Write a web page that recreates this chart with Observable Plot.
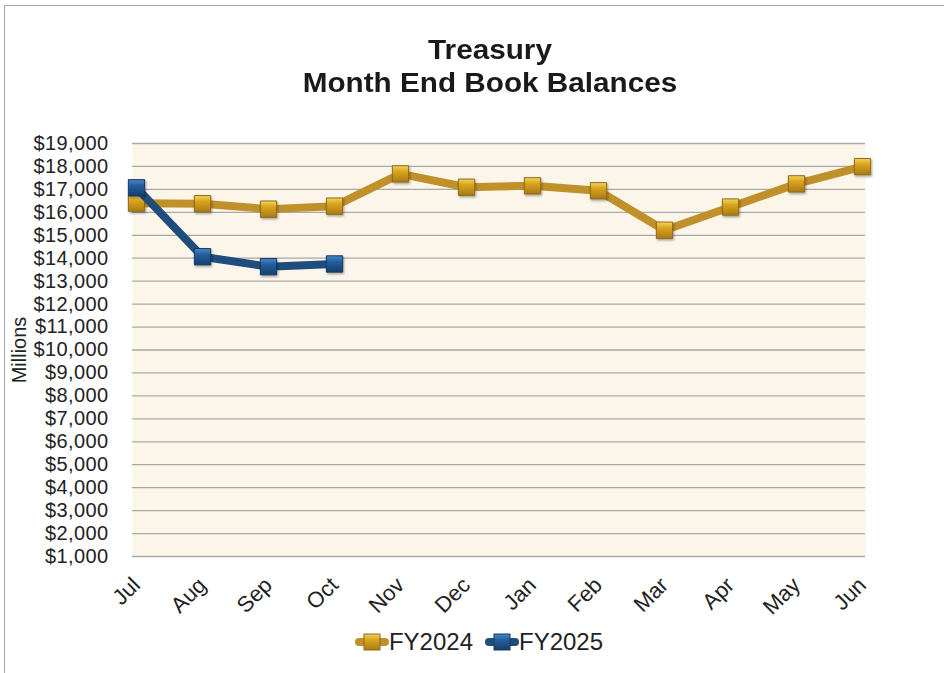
<!DOCTYPE html>
<html><head><meta charset="utf-8">
<script src="https://cdn.jsdelivr.net/npm/d3@7"></script>
<script src="https://cdn.jsdelivr.net/npm/@observablehq/plot@0.6"></script>
<style>
body{margin:0;background:#fff;font-family:"Liberation Sans",Arial,Helvetica,sans-serif;color:#222;}
#wrap{position:relative;width:944px;height:673px;overflow:hidden;}
#frame{position:absolute;left:4px;top:5px;width:990px;height:720px;border-left:1.5px solid #a6a6a6;border-top:1.5px solid #a6a6a6;}
#title{position:absolute;left:240px;width:500px;top:34px;text-align:center;font-weight:bold;font-size:27px;line-height:33px;color:#1a1a1a;transform:scaleX(1.1);transform-origin:center;}
#chart{position:absolute;left:0;top:100px;}
#chart svg g[aria-label='y-axis tick label'] text{letter-spacing:0.4px;}
#legend{position:absolute;left:0;width:944px;top:628px;display:flex;justify-content:center;align-items:center;font-size:24px;color:#222;padding-left:14px;box-sizing:border-box;}
.item{display:flex;align-items:center;margin:0 6px;}
.item svg{display:block;}
</style>
</head><body>
<div id="wrap">
  <div id="frame"></div>
  <div id="title">Treasury<br>Month End Book Balances</div>
  <div id="chart"></div>
  <div id="legend"></div>
</div>
<script>
const months = ["Jul","Aug","Sep","Oct","Nov","Dec","Jan","Feb","Mar","Apr","May","Jun"];
const fy2024 = [16400,16375,16140,16270,17675,17095,17155,16940,15220,16230,17240,17990];
const fy2025 = [17070,14065,13630,13750];
const yTicks = [1000,2000,3000,4000,5000,6000,7000,8000,9000,10000,11000,12000,13000,14000,15000,16000,17000,18000,19000];
const seriesNames = ["FY2024","FY2025"];
const lineColors = ["#c0902a","#1f4e7d"];
const markerFills = ["url(#gGold)","url(#gBlue)"];
const markerStrokes = ["#8c6a1c","#163a60"];

const d24 = months.map((m,i)=>({month:m, value:fy2024[i]}));
const d25 = fy2025.map((v,i)=>({month:months[i], value:v}));

const chart = Plot.plot({
  width:944, height:520,
  marginLeft:132, marginRight:79, marginTop:43, marginBottom:64,
  style:{fontFamily:"Liberation Sans, Arial, sans-serif", fontSize:"20px", color:"#222", background:"transparent", overflow:"visible"},
  x:{type:"point", domain:months, padding:0},
  y:{domain:[1000,19000]},
  marks:[
    Plot.frame({fill:"#fcf6ea", stroke:null}),
    Plot.gridY(yTicks, {stroke:"#a8a8a8", strokeOpacity:1, strokeWidth:1.3}),
    Plot.axisY(yTicks, {tickSize:0, tickPadding:24, tickFormat:d=>"$"+d3.format(",")(d), label:"Millions", labelAnchor:"center", labelArrow:"none", labelOffset:121, fontSize:20}),
    Plot.axisX({tickSize:0, tickRotate:-45, tickPadding:25, fontSize:22, label:null}),
    Plot.line(d24, {x:"month", y:"value", stroke:lineColors[0], strokeWidth:8, strokeLinejoin:"round"}),
    Plot.dot(d24, {x:"month", y:"value", symbol:"square", r:9.2, fill:markerFills[0], stroke:markerStrokes[0], strokeWidth:1}),
    Plot.line(d25, {x:"month", y:"value", stroke:lineColors[1], strokeWidth:8, strokeLinejoin:"round"}),
    Plot.dot(d25, {x:"month", y:"value", symbol:"square", r:9.2, fill:markerFills[1], stroke:markerStrokes[1], strokeWidth:1})
  ]
});

const defs = d3.select(chart).insert("defs", ":first-child");
function grad(id, stops){
  const g = defs.append("linearGradient").attr("id", id).attr("x1",0).attr("y1",0).attr("x2",0).attr("y2",1);
  stops.forEach(([o,c])=>g.append("stop").attr("offset",o).attr("stop-color",c));
}
grad("gGold", [[0,"#f6d35a"],[0.35,"#d9a51e"],[1,"#a97a12"]]);
grad("gBlue", [[0,"#4a88c8"],[0.35,"#24609e"],[1,"#163f6c"]]);
const f = defs.append("filter").attr("id","shadow").attr("x","-30%").attr("y","-30%").attr("width","160%").attr("height","160%");
f.append("feDropShadow").attr("dx",1).attr("dy",1.5).attr("stdDeviation",1.2).attr("flood-color","#000").attr("flood-opacity",0.35);
d3.select(chart).selectAll("g[aria-label='dot'] path").attr("filter","url(#shadow)");
document.getElementById("chart").appendChild(chart);

const legend = document.getElementById("legend");
seriesNames.forEach((name,i)=>{
  const it = document.createElement("div");
  it.className = "item";
  it.innerHTML = `<svg width="34" height="24" viewBox="0 0 34 24"><line x1="4" y1="12" x2="30" y2="12" stroke="${lineColors[i]}" stroke-width="8" stroke-linecap="round"/><rect x="9" y="4" width="16" height="16" fill="${markerFills[i]}" stroke="${markerStrokes[i]}" stroke-width="1"/></svg><span>${name}</span>`;
  legend.appendChild(it);
});
</script>
</body></html>
